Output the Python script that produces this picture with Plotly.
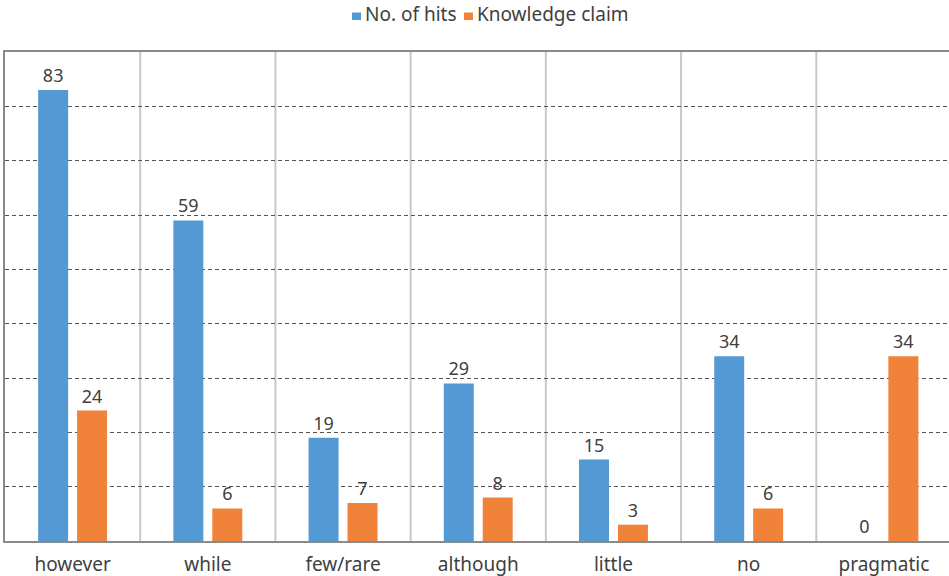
import plotly.graph_objects as go

categories = ["however", "while", "few/rare", "although", "little", "no", "pragmatic"]
hits = [83, 59, 19, 29, 15, 34, 0]
claims = [24, 6, 7, 8, 3, 6, 34]
series_names = ["No. of hits", "Knowledge claim"]
colors = ["#5399D4", "#F0823A"]

FONT = "Noto Sans, Open Sans, sans-serif"
TXT = "#404040"

fig = go.Figure()
for name, vals, col in zip(series_names, [hits, claims], colors):
    fig.add_trace(go.Bar(name=name, x=categories, y=vals, marker_color=col,
                         marker_line_width=0,
                         text=vals, textposition="outside", cliponaxis=False,
                         textfont=dict(size=18, color=TXT, family=FONT)))

# plot-area pixel geometry helpers (for the custom legend)
L, R, T, B = 5, 949, 52, 541.5
def px(x):
    return (x - L) / (R - L)
def py(y):
    return (B - y) / (B - T)

shapes = []
for i in range(len(categories) - 1):
    shapes.append(dict(type="line", xref="x", yref="paper", x0=i + 0.5, x1=i + 0.5, y0=0, y1=1,
                       line=dict(color="#C8C8C8", width=2), layer="below"))

# custom legend
annotations = []
leg = [(352, 361, 363, series_names[0], colors[0]), (464, 473, 475, series_names[1], colors[1])]
for x0, x1, xt, name, col in leg:
    shapes.append(dict(type="rect", xref="paper", yref="paper", x0=px(x0), x1=px(x1),
                       y0=py(20), y1=py(12.5), fillcolor=col, line=dict(width=0)))
    annotations.append(dict(xref="paper", yref="paper", x=px(xt), y=py(14), text=name,
                            showarrow=False, xanchor="left", yanchor="middle",
                            font=dict(size=19, color=TXT, family=FONT)))

fig.update_layout(
    width=949, height=576,
    margin=dict(l=5, r=0, t=52, b=34.5, autoexpand=False),
    plot_bgcolor="white", paper_bgcolor="white",
    barmode="group", bargap=0.424, bargroupgap=0.23,
    font=dict(family=FONT, color=TXT, size=19),
    showlegend=False,
    shapes=shapes,
    annotations=annotations,
    xaxis=dict(range=[-0.5, 6.4815], showline=True, linecolor="#8A8A8A", linewidth=1.5, mirror=True,
               showgrid=False, ticks="", tickfont=dict(size=19, color=TXT), ticklabelstandoff=5),
    yaxis=dict(range=[0, 90], dtick=10, showgrid=True, gridcolor="#555555", griddash="4px,3px",
               gridwidth=1, showticklabels=False, ticks="", zeroline=False,
               showline=True, linecolor="#8A8A8A", linewidth=1.5),
)
fig.write_html("out.html", config={"displayModeBar": False},
               post_script="document.body.style.margin='0px';document.body.style.overflow='hidden';")
